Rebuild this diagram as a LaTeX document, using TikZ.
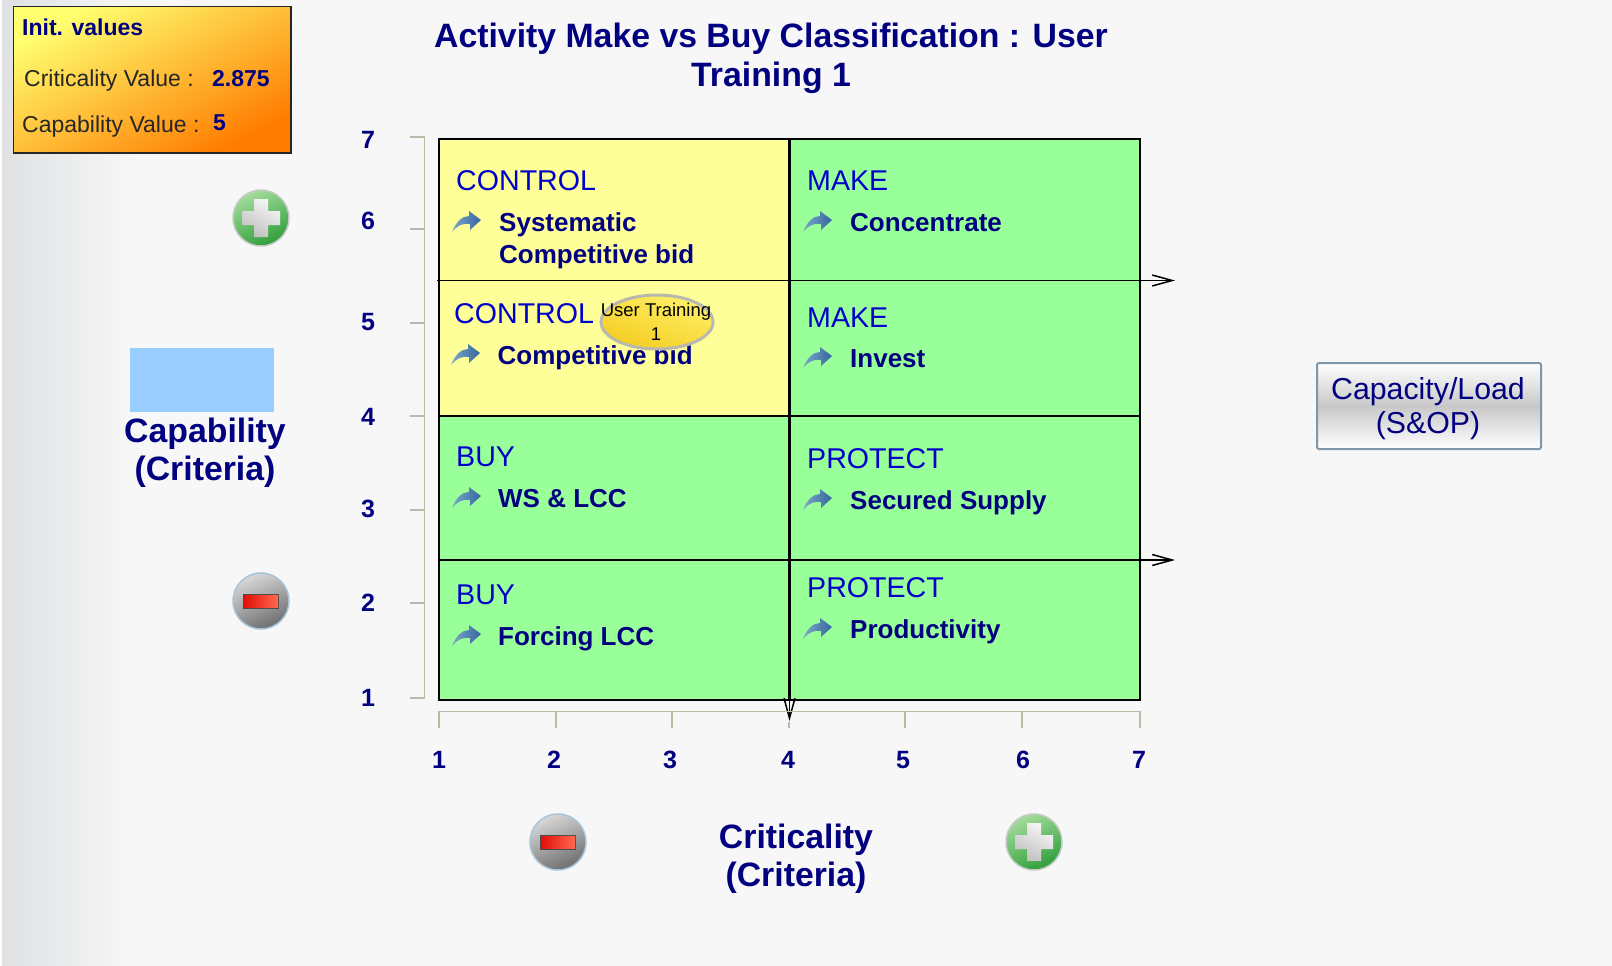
\documentclass[tikz,border=0pt]{standalone}
\usepackage{fontspec}
\setmainfont{Liberation Sans}
\usetikzlibrary{arrows.meta}
\definecolor{pagegrey}{HTML}{F7F7F7}
\definecolor{edgegrey}{HTML}{DFE1E3}
\definecolor{cellyellow}{HTML}{FFFF99}
\definecolor{cellgreen}{HTML}{99FF99}
\definecolor{axistan}{HTML}{BDB9A8}
\definecolor{navytext}{HTML}{000080}
\definecolor{headblue}{HTML}{0000CC}
\definecolor{swatch}{HTML}{99CCFF}
\definecolor{iconpale}{HTML}{7FA8C8}
\definecolor{icondark}{HTML}{33669F}
\definecolor{plustop}{HTML}{A4DC9C}
\definecolor{plusbottom}{HTML}{2F9E3A}
\definecolor{plusrim}{HTML}{C4CCC4}
\definecolor{minustop}{HTML}{D8D8D8}
\definecolor{minusbottom}{HTML}{6E6E6E}
\definecolor{minusrim}{HTML}{A8C4D8}
\definecolor{redleft}{HTML}{E01008}
\definecolor{redright}{HTML}{FF6A50}
\definecolor{bubbletop}{HTML}{FFF068}
\definecolor{bubblebottom}{HTML}{F4CC20}
\definecolor{bubblerim}{HTML}{B8B8B0}
\definecolor{inittop}{HTML}{FFFF70}
\definecolor{initbottom}{HTML}{FF7C00}
\definecolor{buttonmid}{HTML}{C8C8C8}
\definecolor{buttonrim}{HTML}{7F97A8}
\definecolor{crosslight}{HTML}{F6F6F6}
\definecolor{crossdark}{HTML}{C0C0C0}
\tikzset{
	title/.style={font=\fontsize{33.8}{39}\selectfont\bfseries,text=navytext,align=center,inner sep=0},
	axisname/.style={font=\fontsize{33.8}{38}\selectfont\bfseries,text=navytext,align=center,inner sep=0},
	tick/.style={font=\fontsize{25}{25}\selectfont\bfseries,text=navytext,inner sep=0},
	head/.style={font=\fontsize{28.6}{28}\selectfont,text=headblue,anchor=west,inner sep=0},
	item/.style={font=\fontsize{26}{31.5}\selectfont\bfseries,text=navytext,anchor=west,align=left,inner sep=0},
	initlabel/.style={font=\fontsize{23}{23}\selectfont,text=black!85,anchor=west,inner sep=0},
	initvalue/.style={font=\fontsize{23}{23}\selectfont\bfseries,text=navytext,anchor=west,inner sep=0},
	axisline/.style={draw=axistan,line width=1.5},
	split/.style={line width=1.5,-{Straight Barb[length=20,width=11]}},
	arrowicon/.pic={
		\shade[left color=iconpale,right color=icondark] (-15,10) .. controls (-11,0) and (-5,-6) .. (2,-6) -- (2,-11) -- (14,-2) -- (3,8) -- (3,2) .. controls (-4,1) and (-9,3) .. cycle;
	},
	plusbutton/.pic={
		\shade[top color=plustop,bottom color=plusbottom,shading angle=25,draw=plusrim,line width=1.5] (0,0) circle (28);
		\shade[top color=crosslight,bottom color=crossdark,shading angle=-30] (-7,-19) -- (7,-19) -- (7,-7) -- (19,-7) -- (19,7) -- (7,7) -- (7,19) -- (-7,19) -- (-7,7) -- (-19,7) -- (-19,-7) -- (-7,-7) -- cycle;
	},
	minusbutton/.pic={
		\shade[top color=minustop,bottom color=minusbottom,shading angle=25,draw=minusrim,line width=1.5] (0,0) circle (28);
		\fill[gray!60!black] (-18,-7.5) rectangle (18,7.5);
		\shade[left color=redleft,right color=redright] (-17,-6) rectangle (17,6);
	}
}
\begin{document}
\begin{tikzpicture}[x=1pt,y=-1pt]
	\useasboundingbox (0,0) rectangle (1612,966);
	\fill[white] (0,0) rectangle (1612,966);
	\fill[pagegrey] (2,0) rectangle (1612,966);
	\shade[left color=edgegrey,right color=pagegrey] (2,0) rectangle (135,966);
	% cells
	\fill[cellyellow] (439,139) rectangle (789,416);
	\fill[cellgreen] (789,139) rectangle (1140,416);
	\fill[cellgreen] (439,416) rectangle (1140,700);
	\draw[line width=1.5] (439,139) rectangle (1140,700);
	\coordinate (M1) at (439,416);
	\coordinate (M2) at (1140,416);
	\draw[line width=1.5] (M1) to (M2);
	% splitting lines
	\coordinate (H1) at (437,280.5);
	\coordinate (H2) at (1175,280.5);
	\coordinate (G1) at (439,560);
	\coordinate (G2) at (1175,560);
	\coordinate (V1) at (789.5,139);
	\coordinate (V2) at (789.5,721);
	\draw[split] (H1) to (H2);
	\draw[split] (G1) to (G2);
	\draw[split] (V1) to (V2);
	\draw[line width=3] (V1) to (789.5,700);
	% axes
	\draw[axisline] (410,137) -- (424.5,137) -- (424.5,698) -- (410,698);
	\draw[axisline] (410,229) -- (424.5,229);
	\draw[axisline] (410,323) -- (424.5,323);
	\draw[axisline] (410,416) -- (424.5,416);
	\draw[axisline] (410,510) -- (424.5,510);
	\draw[axisline] (410,603) -- (424.5,603);
	\draw[axisline] (439,728) -- (439,711.5) -- (1140,711.5) -- (1140,728);
	\draw[axisline] (556,711.5) -- (556,728);
	\draw[axisline] (672,711.5) -- (672,728);
	\draw[axisline] (789,722) -- (789,728);
	\draw[axisline] (905,711.5) -- (905,728);
	\draw[axisline] (1022,711.5) -- (1022,728);
	\node[tick] (Y7) at (368,140) {7};
	\node[tick] (Y6) at (368,221) {6};
	\node[tick] (Y5) at (368,322) {5};
	\node[tick] (Y4) at (368,417) {4};
	\node[tick] (Y3) at (368,509) {3};
	\node[tick] (Y2) at (368,603) {2};
	\node[tick] (Y1) at (368,698) {1};
	\node[tick] (X1) at (439,760) {1};
	\node[tick] (X2) at (554,760) {2};
	\node[tick] (X3) at (670,760) {3};
	\node[tick] (X4) at (788,760) {4};
	\node[tick] (X5) at (903,760) {5};
	\node[tick] (X6) at (1023,760) {6};
	\node[tick] (X7) at (1139,760) {7};
	% cell texts
	\node[head] (C1) at (456,181) {CONTROL};
	\node[item,anchor=north west] (C1a) at (499,212.5) {Systematic\\Competitive bid};
	\pic at (467,222) {arrowicon};
	\node[head] (C2) at (454,314) {CONTROL};
	\node[item] (C2a) at (497.5,358) {Competitive bid};
	\pic at (466,355) {arrowicon};
	\node[head] (K1) at (807,181) {MAKE};
	\node[item] (K1a) at (850,223) {Concentrate};
	\pic at (818,222) {arrowicon};
	\node[head] (K2) at (807,317.5) {MAKE};
	\node[item] (K2a) at (850,359) {Invest};
	\pic at (818,358) {arrowicon};
	\node[head] (B1) at (456,457) {BUY};
	\node[item] (B1a) at (498,499) {WS \& LCC};
	\pic at (467,498) {arrowicon};
	\node[head] (T1) at (807,459) {PROTECT};
	\node[item] (T1a) at (850,503) {Secured Supply};
	\pic at (818,500) {arrowicon};
	\node[head] (B2) at (456,595) {BUY};
	\node[item] (B2a) at (498,639) {Forcing LCC};
	\pic at (467,636) {arrowicon};
	\node[head] (T2) at (807,588) {PROTECT};
	\node[item] (T2a) at (850,632) {Productivity};
	\pic at (818,629) {arrowicon};
	% activity bubble
	\shade[top color=bubbletop,bottom color=bubblebottom,shading angle=-20,draw=bubblerim,line width=3] (657,322) ellipse (56 and 27);
	\node[font=\fontsize{18.5}{24.5}\selectfont,align=center,inner sep=0] (U) at (656,322) {User Training\\1};
	% title and names
	\node[title] (Tt) at (771,58.5) {Activity Make vs Buy Classification : User\\Training 1};
	\fill[swatch] (130,348) rectangle (274,412);
	\node[axisname] (Cap) at (205,453) {Capability\\(Criteria)};
	\node[axisname] (Cri) at (796,859) {Criticality\\(Criteria)};
	% init box
	\shade[top color=inittop,bottom color=initbottom,shading angle=28,draw=black!85,line width=1.5] (13.5,6.5) rectangle (291,153);
	\node[font=\fontsize{23}{24}\selectfont\bfseries,text=navytext,anchor=west,inner sep=0] (I0) at (22,27) {Init. values};
	\node[initlabel] (I1) at (24,81) {Criticality Value :};
	\node[initvalue] (I2) at (212,79) {2.875};
	\node[initlabel] (I3) at (22,127) {Capability Value :};
	\node[initvalue] (I4) at (213,123) {5};
	% button
	\shade[top color=white,bottom color=white,middle color=buttonmid,draw=buttonrim,line width=2,rounded corners=2] (1317,363) rectangle (1541,449);
	\node[font=\fontsize{30.3}{34}\selectfont,text=navytext,align=center,inner sep=0] (Btn) at (1428,408.5) {Capacity/Load\\(S\&OP)};
	% plus and minus
	\pic at (261,218) {plusbutton};
	\pic at (261,601) {minusbutton};
	\pic at (558,842) {minusbutton};
	\pic at (1034,842) {plusbutton};
\end{tikzpicture}
\end{document}
